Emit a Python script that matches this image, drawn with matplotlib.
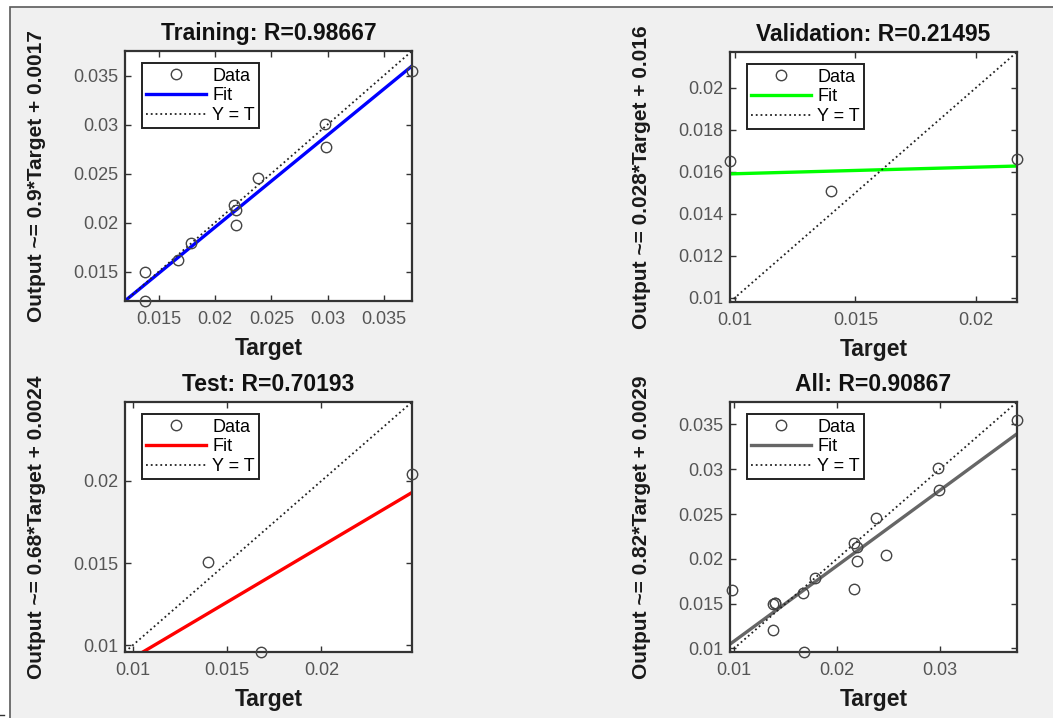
import matplotlib
matplotlib.use("Agg")
import matplotlib.pyplot as plt
import matplotlib.patches as patches
import numpy as np

plt.rcParams['font.family'] = ['Liberation Sans', 'DejaVu Sans']

# Targets / outputs
train_t = [0.0138, 0.0138, 0.0167, 0.0179, 0.0217, 0.0219, 0.0219, 0.0238, 0.0298, 0.0299, 0.0375]
train_y = [0.0150, 0.0120, 0.0162, 0.0179, 0.0218, 0.0213, 0.0198, 0.0245, 0.0301, 0.0277, 0.0355]
val_t = [0.0098, 0.0140, 0.0217]
val_y = [0.0165, 0.0151, 0.0166]
test_t = [0.0140, 0.0168, 0.0248]
test_y = [0.0151, 0.0096, 0.0204]

titles = ["Training: R=0.98667", "Validation: R=0.21495", "Test: R=0.70193", "All: R=0.90867"]
ylabels = ["Output ~= 0.9*Target + 0.0017", "Output ~= 0.028*Target + 0.016",
           "Output ~= 0.68*Target + 0.0024", "Output ~= 0.82*Target + 0.0029"]
fit_colors = ["#0000ff", "#00ff00", "#ff0000", "#666666"]
xticks = [[0.015, 0.02, 0.025, 0.03, 0.035], [0.01, 0.015, 0.02],
          [0.01, 0.015, 0.02], [0.01, 0.02, 0.03]]
yticks = [[0.015, 0.02, 0.025, 0.03, 0.035], [0.01, 0.012, 0.014, 0.016, 0.018, 0.02],
          [0.01, 0.015, 0.02], [0.01, 0.015, 0.02, 0.025, 0.03, 0.035]]

all_t = train_t + val_t + test_t
all_y = train_y + val_y + test_y
sets = [(train_t, train_y), (val_t, val_y), (test_t, test_y), (all_t, all_y)]

W, H = 1053, 718
fig = plt.figure(figsize=(W / 100, H / 100), dpi=100)
fig.patch.set_facecolor('white')

# grey window panel with thin frame on top and left
panel = patches.Rectangle((10 / W, -0.01), 1.1, (H - 7) / H + 0.01, transform=fig.transFigure,
                          facecolor='#f0f0f0', edgecolor='#5a5a5a', linewidth=1.2, zorder=-10)
fig.patches.append(panel)
fig.add_artist(plt.Line2D([0, 4 / W], [3 / H, 3 / H], color='#333333', linewidth=1, zorder=-9))

# axes boxes in pixels: left, bottom-from-top
boxes = [(125, 301), (730, 302), (125, 652), (730, 652)]
aw, ah = 287, 250

for i, (t, y) in enumerate(sets):
    left, bot = boxes[i]
    ax = fig.add_axes([left / W, (H - bot) / H, aw / W, ah / H])
    t = np.array(t)
    y = np.array(y)
    lo = min(t.min(), y.min())
    hi = max(t.max(), y.max())
    slope, icpt = np.polyfit(t, y, 1)
    xs = np.array([lo, hi])

    ax.plot(t, y, 'o', markerfacecolor='none', markeredgecolor='#444444',
            markersize=7.5, markeredgewidth=1.0, label='Data', zorder=3, clip_on=False)
    ax.plot(xs, slope * xs + icpt, '-', color=fit_colors[i], linewidth=2.4, label='Fit', zorder=2)
    ax.plot(xs, xs, ':', color='#222222', linewidth=1.3, label='Y = T', zorder=2)

    ax.set_xlim(lo, hi)
    ax.set_ylim(lo, hi)
    ax.set_xticks(xticks[i])
    ax.set_yticks(yticks[i])
    ax.set_xticklabels(['%g' % v for v in xticks[i]])
    ax.set_yticklabels(['%g' % v for v in yticks[i]])
    ax.tick_params(direction='in', top=True, right=True, length=4, width=1,
                   color='#333333', labelsize=13, labelcolor='#555555')
    ax.tick_params(axis='x', pad=7)
    ax.tick_params(axis='y', pad=5)
    for s in ax.spines.values():
        s.set_color('#333333')
        s.set_linewidth(1.6)

    ax.set_title(titles[i], fontsize=16.5, fontweight='bold', pad=8, color='#111111')
    ax.set_xlabel('Target', fontsize=16.5, fontweight='bold', color='#1a1a1a')
    ax.set_ylabel(ylabels[i], fontsize=15, fontweight='bold', color='#1a1a1a')
    ax.xaxis.set_label_coords(0.5, -0.145)
    ax.yaxis.set_label_coords(-0.275, 0.5)

    leg = ax.legend(loc='upper left', bbox_to_anchor=(0.059, 0.952), borderaxespad=0,
                    fontsize=13, handlelength=3.3, handletextpad=0.35, labelspacing=0.15,
                    borderpad=0.25, fancybox=False, framealpha=1, edgecolor='#222222')
    leg.get_frame().set_linewidth(1.4)

fig.savefig('out.png', dpi=100, facecolor=fig.get_facecolor())
